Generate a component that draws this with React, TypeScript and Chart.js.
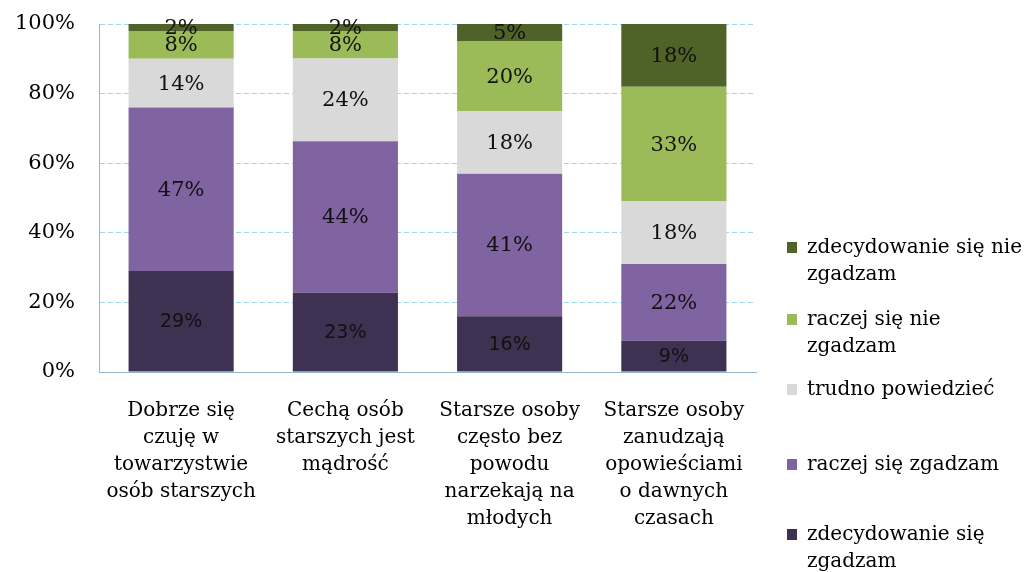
import React, { useEffect, useRef } from "react";
import { Chart, registerables } from "chart.js";

Chart.register(...registerables);

const CATEGORIES: string[][] = [
  ["Dobrze się", "czuję w", "towarzystwie", "osób starszych"],
  ["Cechą osób", "starszych jest", "mądrość"],
  ["Starsze osoby", "często bez", "powodu", "narzekają na", "młodych"],
  ["Starsze osoby", "zanudzają", "opowieściami", "o dawnych", "czasach"],
];

const SERIES_NAMES = [
  "zdecydowanie się zgadzam",
  "raczej się zgadzam",
  "trudno powiedzieć",
  "raczej się nie zgadzam",
  "zdecydowanie się nie zgadzam",
];

const ZDEC_ZGADZAM = [29, 23, 16, 9];
const RACZEJ_ZGADZAM = [47, 44, 41, 22];
const TRUDNO = [14, 24, 18, 18];
const RACZEJ_NIE = [8, 8, 20, 33];
const ZDEC_NIE = [2, 2, 5, 18];

const Y_TICKS = [0, 20, 40, 60, 80, 100];

const SERIES = [ZDEC_ZGADZAM, RACZEJ_ZGADZAM, TRUDNO, RACZEJ_NIE, ZDEC_NIE];
const COLORS = ["#3f3151", "#8064a2", "#d9d9d9", "#9bbb59", "#4f6228"];

// legend layout (top of each entry, reversed order)
const LEGEND_TOPS = [233, 305, 375, 450, 520];

const labelPlugin = {
  id: "segLabels",
  afterDatasetsDraw(chart: any) {
    const ctx = chart.ctx;
    chart.data.datasets.forEach((ds: any, di: number) => {
      const meta = chart.getDatasetMeta(di);
      meta.data.forEach((el: any, i: number) => {
        const { x, y, base } = el.getProps(["x", "y", "base"], true);
        ctx.save();
        ctx.font = di === 0 ? '19px "DejaVu Sans"' : '21px "DejaVu Serif"';
        ctx.fillStyle = "#111111";
        ctx.textAlign = "center";
        ctx.textBaseline = "middle";
        ctx.fillText(SERIES[di][i] + "%", x, (y + base) / 2 + 1);
        ctx.restore();
      });
    });
  },
};

export default function App() {
  const canvasRef = useRef<HTMLCanvasElement | null>(null);

  useEffect(() => {
    if (!canvasRef.current) return;
    const totals = CATEGORIES.map((_, i) =>
      SERIES.reduce((s, arr) => s + arr[i], 0)
    );
    const chart = new Chart(canvasRef.current, {
      type: "bar",
      data: {
        labels: CATEGORIES as any,
        datasets: SERIES.map((arr, di) => ({
          label: SERIES_NAMES[di],
          data: arr.map((v, i) => (v / totals[i]) * 100),
          backgroundColor: COLORS[di],
          borderWidth: 0,
          barPercentage: 0.64,
          categoryPercentage: 1,
        })),
      },
      options: {
        animation: false,
        responsive: true,
        maintainAspectRatio: false,
        layout: { padding: { top: 24, right: 277, left: 0, bottom: 0 } },
        plugins: {
          legend: { display: false },
          tooltip: { enabled: false },
          title: { display: false },
        },
        scales: {
          x: {
            stacked: true,
            grid: { display: false, drawTicks: false },
            border: { display: true, color: "#93b6cc", width: 1 },
            ticks: {
              color: "#000000",
              padding: 25,
              maxRotation: 0,
              autoSkip: false,
              font: { family: '"DejaVu Serif"', size: 20, lineHeight: "27px" } as any,
            },
            afterFit(scale: any) {
              scale.height = 200;
            },
          },
          y: {
            stacked: true,
            min: 0,
            max: 100,
            grid: {
              color: "#9fd3ee",
              drawTicks: false,
              lineWidth: 1,
            },
            border: { display: true, color: "#93b6cc", width: 1, dash: [5, 3] } as any,
            ticks: {
              stepSize: 20,
              padding: 24,
              color: "#000000",
              font: { family: '"DejaVu Serif"', size: 21 },
              callback: (v: any) => (Y_TICKS.includes(Number(v)) ? v + "%" : ""),
            },
            afterFit(scale: any) {
              scale.width = 99;
              scale.paddingTop = 0;
              scale.paddingBottom = 0;
            },
          },
        },
      },
      plugins: [labelPlugin],
    });
    return () => chart.destroy();
  }, []);

  const legendOrder = [4, 3, 2, 1, 0];

  return (
    <div
      style={{
        position: "fixed",
        left: 0,
        top: 0,
        width: 1033,
        height: 572,
        background: "#ffffff",
        overflow: "hidden",
      }}
    >
      <div style={{ position: "absolute", left: 0, top: 0, width: 1033, height: 572 }}>
        <canvas ref={canvasRef} />
      </div>
      {legendOrder.map((di, k) => (
        <div
          key={di}
          style={{
            position: "absolute",
            left: 787,
            top: LEGEND_TOPS[k],
            width: 245,
            display: "flex",
            alignItems: "flex-start",
            fontFamily: '"DejaVu Serif"',
            fontSize: 20,
            lineHeight: "27px",
            color: "#000000",
          }}
        >
          <div
            style={{
              width: 10,
              height: 11,
              marginTop: 9,
              marginRight: 10,
              flex: "0 0 auto",
              background: COLORS[di],
            }}
          />
          <div style={{ width: 224 }}>{SERIES_NAMES[di]}</div>
        </div>
      ))}
    </div>
  );
}
